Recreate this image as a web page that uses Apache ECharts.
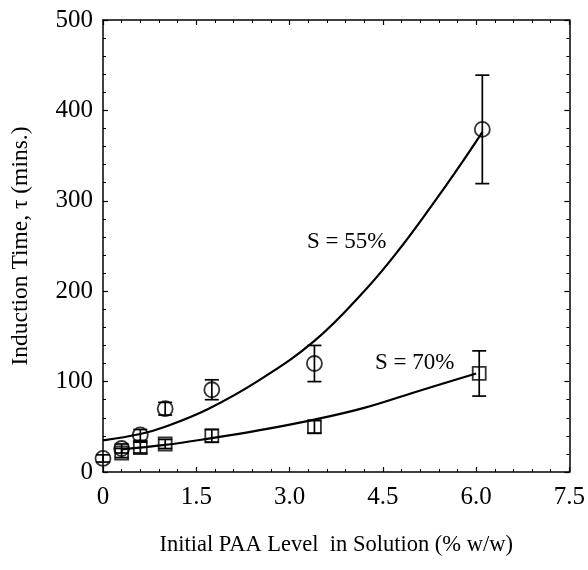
<!DOCTYPE html>
<html>
<head>
<meta charset="utf-8">
<script src="https://cdn.jsdelivr.net/npm/echarts@6/dist/echarts.min.js"></script>
<style>
  html, body { margin: 0; padding: 0; background: #fff; }
  #chart { width: 588px; height: 570px; }
</style>
</head>
<body>
<div id="chart"></div>
<script>
// S = 55% measurements
const x55 = [0, 0.3, 0.6, 1.0, 1.75, 3.4, 6.1];
const y55 = [15, 26, 41, 70, 91, 120, 379];
const err55 = [4, 5, 6, 7, 11, 20, 60];
// S = 70% measurements
const x70 = [0.3, 0.6, 1.0, 1.75, 3.4, 6.05];
const y70 = [21, 27, 31, 40, 50, 109];
const err70 = [5, 6, 5, 7, 7, 25];
// fitted curves
const fitX55 = [0, 0.6, 1.0, 1.7, 2.5, 3.4, 4.2, 4.75, 5.3, 5.7, 6.1];
const fitY55 = [35, 42, 50, 70, 101, 145, 200, 245, 296, 335, 376];
const fitX70 = [0.3, 1.0, 1.7, 2.5, 3.4, 4.2, 5.0, 6.0];
const fitY70 = [25, 30, 37, 46, 58, 71, 88, 109];

const xTicks = ['0', '1.5', '3.0', '4.5', '6.0', '7.5'];

const zip = (a, b) => a.map((v, i) => [v, b[i]]);
const errData = (xs, ys, es) => xs.map((v, i) => [v, ys[i] - es[i], ys[i] + es[i]]);

const font = 'Liberation Serif';
const black = '#000';

function errorBar(params, api) {
    const x = api.value(0);
    const lo = api.coord([x, api.value(1)]);
    const hi = api.coord([x, api.value(2)]);
    const w = 7;
    const style = { stroke: black, lineWidth: 1.7 };
    return {
        type: 'group',
        children: [
            { type: 'line', shape: { x1: lo[0], y1: lo[1], x2: hi[0], y2: hi[1] }, style },
            { type: 'line', shape: { x1: lo[0] - w, y1: lo[1], x2: lo[0] + w, y2: lo[1] }, style },
            { type: 'line', shape: { x1: hi[0] - w, y1: hi[1], x2: hi[0] + w, y2: hi[1] }, style }
        ]
    };
}

const axisBase = {
    min: 0,
    axisLine: { show: true, onZero: false, lineStyle: { color: black, width: 1.5 } },
    axisTick: { show: true, inside: true, length: 5, lineStyle: { color: black, width: 1.2 } },
    minorTick: { show: true, splitNumber: 5, length: 3, lineStyle: { color: black, width: 1 } },
    splitLine: { show: false }
};

const chart = echarts.init(document.getElementById('chart'));
chart.setOption({
    backgroundColor: '#fff',
    animation: false,
    textStyle: { fontFamily: font },
    grid: { left: 103, right: 16, top: 20, bottom: 98, containLabel: false },
    xAxis: [
        {
            ...axisBase, type: 'value', position: 'bottom', max: 7.5, interval: 1.5,
            axisLabel: {
                color: black, fontSize: 25, fontFamily: font, margin: 13,
                formatter: (v) => xTicks[Math.round(v / 1.5)]
            },
            name: 'Initial PAA Level  in Solution (% w/w)',
            nameLocation: 'middle', nameGap: 62,
            nameTextStyle: { color: black, fontSize: 22.5, fontFamily: font }
        },
        {
            ...axisBase, type: 'value', position: 'top', max: 7.5, interval: 1.5,
            axisLabel: { show: false }
        }
    ],
    yAxis: [
        {
            ...axisBase, type: 'value', position: 'left', max: 500, interval: 100,
            axisLabel: { color: black, fontSize: 25, fontFamily: font, margin: 10 },
            name: 'Induction Time, \u03c4 (mins.)',
            nameLocation: 'middle', nameGap: 70,
            nameTextStyle: { color: black, fontSize: 23.5, fontFamily: font }
        },
        {
            ...axisBase, type: 'value', position: 'right', max: 500, interval: 100,
            axisLabel: { show: false }
        }
    ],
    series: [
        {
            name: 'fit 55', type: 'line', smooth: 0.4, showSymbol: false,
            lineStyle: { color: black, width: 2.2 }, data: zip(fitX55, fitY55), z: 2
        },
        {
            name: 'fit 70', type: 'line', smooth: 0.4, showSymbol: false,
            lineStyle: { color: black, width: 2.2 }, data: zip(fitX70, fitY70), z: 2
        },
        {
            name: 'err 55', type: 'custom', renderItem: errorBar,
            encode: { x: 0, y: [1, 2] }, data: errData(x55, y55, err55), z: 3
        },
        {
            name: 'err 70', type: 'custom', renderItem: errorBar,
            encode: { x: 0, y: [1, 2] }, data: errData(x70, y70, err70), z: 3
        },
        {
            name: 'S = 55%', type: 'scatter', symbol: 'circle', symbolSize: 15,
            itemStyle: { color: 'rgba(0,0,0,0)', borderColor: black, borderWidth: 1.8 },
            data: zip(x55, y55), z: 4
        },
        {
            name: 'S = 70%', type: 'scatter', symbol: 'rect', symbolSize: 13,
            itemStyle: { color: 'rgba(0,0,0,0)', borderColor: black, borderWidth: 1.8 },
            data: zip(x70, y70), z: 4
        }
    ],
    graphic: [
        { type: 'text', left: 307, top: 230, style: { text: 'S = 55%', fill: black, fontSize: 23, fontFamily: font } },
        { type: 'text', left: 375, top: 351, style: { text: 'S = 70%', fill: black, fontSize: 23, fontFamily: font } }
    ]
});
</script>
</body>
</html>
